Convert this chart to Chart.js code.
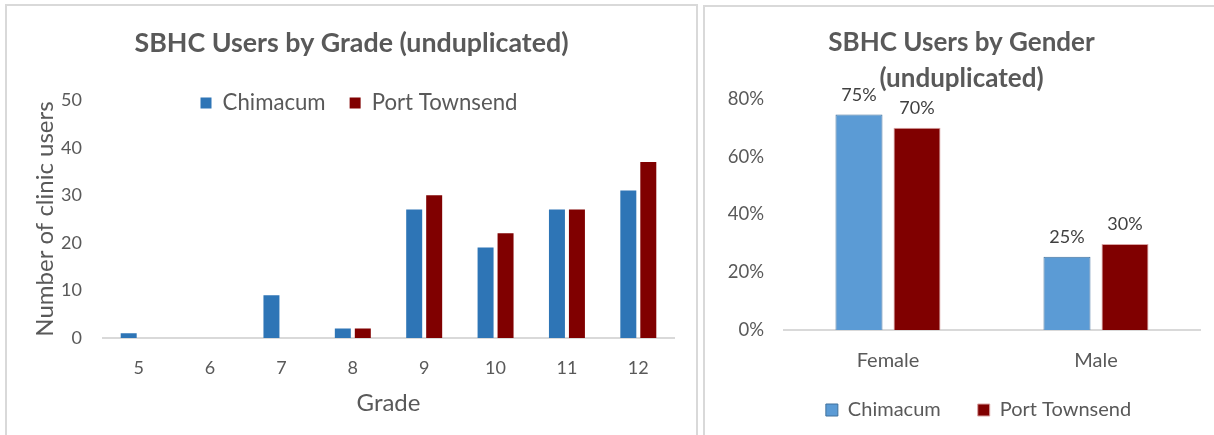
<!DOCTYPE html>
<html lang="en">
<head>
    <meta charset="UTF-8">
    <title>SBHC Users</title>
    <script src="https://cdn.jsdelivr.net/npm/chart.js"></script>
    <style>
        body { margin: 0; background: #fff; overflow: hidden; width: 1214px; height: 435px; position: relative; }
        .panel { position: absolute; border: 2px solid #D9D9D9; background: #fff; }
        #gradePanel { left: 5px; top: 4px; width: 689px; height: 440px; }
        #genderPanel { left: 703px; top: 5px; width: 600px; height: 440px; }
        canvas { display: block; }
    </style>
</head>
<body>
    <div class="panel" id="gradePanel"><canvas id="gradeChart" width="689" height="429"></canvas></div>
    <div class="panel" id="genderPanel"><canvas id="genderChart" width="509" height="428"></canvas></div>
    <script>
        // data
        const grades = ['5', '6', '7', '8', '9', '10', '11', '12'];
        const chimacumByGrade = [1, 0, 9, 2, 27, 19, 27, 31];
        const portTownsendByGrade = [0, 0, 0, 2, 30, 22, 27, 37];

        const genders = ['Female', 'Male'];
        const chimacumByGender = [0.746, 0.254];
        const portTownsendByGender = [0.70, 0.298];

        const textColor = '#595959';
        Chart.defaults.font.family = 'Lato, "Liberation Sans", sans-serif';
        Chart.defaults.color = textColor;
        Chart.defaults.animation = false;

        // nudges legend / title boxes after layout (Excel puts them in odd places)
        const boxShift = {
            id: 'boxShift',
            afterLayout(chart, args, opts) {
                const move = (box, d) => {
                    if (!box || !d) return;
                    box.left += d.x || 0; box.right += d.x || 0;
                    box.top += d.y || 0; box.bottom += d.y || 0;
                };
                move(chart.legend, opts.legend);
                move(chart.titleBlock, opts.title);
            }
        };

        // value labels above the bars
        const barLabels = {
            id: 'barLabels',
            afterDatasetsDraw(chart, args, opts) {
                if (!opts.display) return;
                const ctx = chart.ctx;
                ctx.save();
                ctx.font = opts.size + 'px ' + Chart.defaults.font.family;
                ctx.fillStyle = opts.color;
                ctx.textAlign = 'center';
                ctx.textBaseline = 'middle';
                chart.data.datasets.forEach((ds, i) => {
                    chart.getDatasetMeta(i).data.forEach((bar, j) => {
                        ctx.fillText(Math.round(ds.data[j] * 100) + '%', bar.x, bar.y - opts.offset);
                    });
                });
                ctx.restore();
            }
        };

        new Chart(document.getElementById('gradeChart'), {
            type: 'bar',
            data: {
                labels: grades,
                datasets: [
                    { label: 'Chimacum', data: chimacumByGrade, backgroundColor: '#2E75B6', borderWidth: 0 },
                    { label: 'Port Townsend', data: portTownsendByGrade, backgroundColor: '#800000', borderWidth: 0 }
                ]
            },
            options: {
                responsive: false,
                categoryPercentage: 0.56,
                barPercentage: 0.8,
                layout: { padding: { left: 0, right: 22, top: 0, bottom: 10 } },
                scales: {
                    x: {
                        grid: { display: false, drawTicks: false },
                        border: { display: true, color: '#D9D9D9', width: 2 },
                        ticks: { padding: 19, font: { size: 18 }, color: textColor },
                        title: { display: true, text: 'Grade', font: { size: 24 }, color: textColor, padding: { top: 0, bottom: 7.6 } },
                        afterFit(scale) { scale.height = 87; }
                    },
                    y: {
                        min: 0, max: 50,
                        ticks: { stepSize: 10, padding: 21, font: { size: 18 }, color: textColor },
                        grid: { display: false, drawTicks: false },
                        border: { display: false },
                        title: { display: true, text: 'Number of clinic users', font: { size: 24 }, color: textColor, padding: { top: 23.6, bottom: 0 } },
                        afterFit(scale) { scale.width = 96; }
                    }
                },
                plugins: {
                    title: {
                        display: true,
                        text: 'SBHC Users by Grade (unduplicated)',
                        font: { size: 26.8, weight: 'bold' },
                        color: textColor,
                        padding: { top: 20.8, bottom: -15 }
                    },
                    legend: {
                        position: 'top',
                        labels: { font: { size: 22.2 }, boxWidth: 11, boxHeight: 11, padding: 24, color: textColor }
                    },
                    boxShift: { legend: { x: 18.5, y: 24 }, title: { x: 11, y: 0 } },
                    tooltip: { enabled: false },
                    barLabels: { display: false }
                }
            },
            plugins: [boxShift, barLabels]
        });

        new Chart(document.getElementById('genderChart'), {
            type: 'bar',
            data: {
                labels: genders,
                datasets: [
                    { label: 'Chimacum', data: chimacumByGender, backgroundColor: '#5B9BD5', borderColor: '#41719C', borderWidth: 1 },
                    { label: 'Port Townsend', data: portTownsendByGender, backgroundColor: '#800000', borderColor: '#D9A3A3', borderWidth: 1 }
                ]
            },
            options: {
                responsive: false,
                categoryPercentage: 0.558,
                barPercentage: 0.81,
                layout: { padding: { left: 0, right: 14, top: 0, bottom: 0 } },
                scales: {
                    x: {
                        grid: { display: false, drawTicks: false },
                        border: { display: true, color: '#D9D9D9', width: 2 },
                        ticks: { padding: 18.5, font: { size: 20 }, color: textColor },
                        afterFit(scale) { scale.height = 38; }
                    },
                    y: {
                        min: 0, max: 0.8,
                        ticks: {
                            stepSize: 0.2, padding: 20, font: { size: 18.5 }, color: textColor,
                            callback: v => Math.round(v * 100) + '%'
                        },
                        grid: { display: false, drawTicks: false },
                        border: { display: false },
                        afterFit(scale) { scale.width = 79; }
                    }
                },
                plugins: {
                    title: {
                        display: true,
                        text: ['SBHC Users by Gender', '(unduplicated)'],
                        font: { size: 26, weight: 'bold', lineHeight: 1.373 },
                        color: textColor,
                        padding: { top: 18.15, bottom: 2.45 }
                    },
                    legend: {
                        position: 'bottom',
                        labels: { font: { size: 20 }, boxWidth: 12, boxHeight: 12, padding: 37, color: textColor }
                    },
                    boxShift: { legend: { x: 26, y: -5 }, title: { x: 9, y: 0 } },
                    tooltip: { enabled: false },
                    barLabels: { display: true, size: 18, color: '#404040', offset: 19.5 }
                }
            },
            plugins: [boxShift, barLabels]
        });
    </script>
</body>
</html>
